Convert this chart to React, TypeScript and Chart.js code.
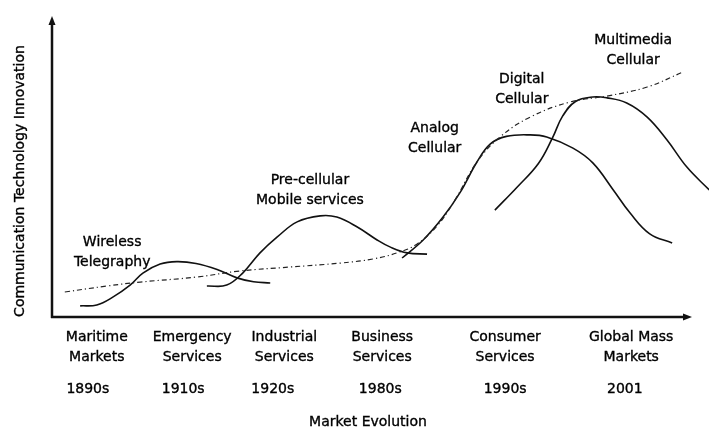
import React, { useEffect, useRef } from "react";
import { Chart, registerables } from "chart.js";

Chart.register(...registerables);

// ---- data (x: market evolution 0-100, y: technology innovation 0-100) ----
const wirelessTelegraphy: [number, number][] = [
  [4.4, 3.7], [7.0, 4.0], [9.5, 6.6], [12.2, 10.6], [14.2, 14.6], [16.9, 17.6],
  [19.5, 18.4], [22.5, 17.8], [25.8, 15.8], [28.9, 13.0], [31.5, 11.7], [34.1, 11.3],
];
const preCellular: [number, number][] = [
  [24.2, 10.3], [27.3, 10.6], [29.8, 14.6], [32.5, 21.3], [35.2, 26.6], [38.3, 31.6],
  [41.9, 33.6], [44.5, 33.2], [47.7, 29.9], [50.8, 25.6], [52.8, 23.3], [55.5, 21.3], [58.6, 20.9],
];
const analogCellular: [number, number][] = [
  [54.7, 19.6], [58.0, 25.6], [61.1, 33.2], [63.8, 41.5], [66.4, 51.5], [68.5, 57.5],
  [71.0, 60.0], [74.7, 60.5], [77.3, 59.8], [81.4, 56.1], [84.5, 51.2],
  [87.7, 42.2], [90.3, 34.6], [93.4, 27.6], [96.9, 24.6],
];
const digitalCellular: [number, number][] = [
  [69.2, 35.5], [72.7, 43.2], [76.0, 51.0], [78.2, 59.5], [79.8, 66.8], [81.8, 71.6],
  [84.5, 73.1], [86.7, 72.8], [89.8, 71.1], [93.0, 66.4], [96.1, 58.8], [99.2, 49.8], [102.7, 42.2],
];
const innovationTrend: [number, number][] = [
  [2.0, 8.3], [8.6, 10.3], [13.8, 11.6], [22.7, 13.3], [29.4, 15.3], [37.2, 16.6],
  [45.0, 17.9], [50.2, 19.3], [53.9, 21.3], [57.0, 24.2], [60.3, 30.6], [63.0, 39.0],
  [66.4, 51.5], [70.0, 59.8], [74.7, 66.4], [80.9, 71.4], [86.7, 73.4], [93.0, 76.4], [98.6, 81.4],
];

const marketCategories: string[][] = [
  ["Maritime", "Markets"],
  ["Emergency", "Services"],
  ["Industrial", "Services"],
  ["Business", "Services"],
  ["Consumer", "Services"],
  ["Global Mass", "Markets"],
];
const marketYears: string[] = ["1890s", "1910s", "1920s", "1980s", "1990s", "2001"];

const technologyLabels: string[][] = [
  ["Wireless", "Telegraphy"],
  ["Pre-cellular", "Mobile services"],
  ["Analog", "Cellular"],
  ["Digital", "Cellular"],
  ["Multimedia", "Cellular"],
];

// ---- label placement (data units) ----
const categoryPos = [7.0, 21.9, 36.3, 51.6, 70.8, 90.5];
const yearPos = [5.6, 20.5, 34.5, 51.3, 70.8, 89.5];
const technologyPos: [number, number][] = [
  [9.4, 24.9], [40.3, 45.5], [59.8, 62.8], [73.4, 79.1], [90.8, 92.0],
];

const FONT = '14px "DejaVu Sans", Verdana, sans-serif';
const INK = "#111";

const decorPlugin = {
  id: "decor",
  afterDatasetsDraw(chart: any) {
    const { ctx, scales } = chart;
    const xs = scales.x;
    const ys = scales.y;
    const x0 = xs.getPixelForValue(0);
    const y0 = ys.getPixelForValue(0);
    const x1 = xs.getPixelForValue(100);
    const y1 = ys.getPixelForValue(100);
    ctx.save();
    // axes with arrows
    ctx.strokeStyle = INK;
    ctx.fillStyle = INK;
    ctx.lineWidth = 2.5;
    ctx.lineCap = "butt";
    ctx.beginPath();
    ctx.moveTo(x0, y0 + 1);
    ctx.lineTo(x0, y1 + 6);
    ctx.moveTo(x0 - 1, y0);
    ctx.lineTo(x1 - 6, y0);
    ctx.stroke();
    ctx.beginPath();
    ctx.moveTo(x0, y1);
    ctx.lineTo(x0 - 3.5, y1 + 9);
    ctx.lineTo(x0 + 3.5, y1 + 9);
    ctx.closePath();
    ctx.fill();
    ctx.beginPath();
    ctx.moveTo(x1, y0);
    ctx.lineTo(x1 - 9, y0 - 3.5);
    ctx.lineTo(x1 - 9, y0 + 3.5);
    ctx.closePath();
    ctx.fill();

    ctx.font = FONT;
    ctx.textAlign = "center";
    ctx.textBaseline = "middle";
    ctx.fillStyle = "#000";
    ctx.strokeStyle = "#000";
    ctx.lineWidth = 0.35;
    const text = (t: string, px: number, py: number) => {
      ctx.fillText(t, px, py);
      ctx.strokeText(t, px, py);
    };
    // curve labels
    technologyLabels.forEach((lines, i) => {
      const px = xs.getPixelForValue(technologyPos[i][0]);
      const py = ys.getPixelForValue(technologyPos[i][1]);
      lines.forEach((t, j) => text(t, px, py + j * 20));
    });
    // category labels
    marketCategories.forEach((lines, i) => {
      const px = xs.getPixelForValue(categoryPos[i]);
      lines.forEach((t, j) => text(t, px, y0 + 20 + j * 20));
    });
    marketYears.forEach((t, i) => {
      text(t, xs.getPixelForValue(yearPos[i]), y0 + 72);
    });
    // axis titles
    text("Market Evolution", 368, y0 + 105);
    ctx.translate(20, 181);
    ctx.rotate(-Math.PI / 2);
    text("Communication Technology Innovation", 0, 0);
    ctx.restore();
  },
};

const toPoints = (arr: [number, number][]) => arr.map(([x, y]) => ({ x, y }));

export default function App() {
  const ref = useRef<HTMLCanvasElement | null>(null);
  useEffect(() => {
    if (!ref.current) return;
    const curve = (label: string, data: [number, number][]) => ({
      label,
      data: toPoints(data),
      borderColor: INK,
      borderWidth: 1.6,
      pointRadius: 0,
      fill: false,
      tension: 0.4,
      clip: false as const,
    });
    const chart = new Chart(ref.current, {
      type: "line",
      data: {
        datasets: [
          {
            label: "Trend",
            data: toPoints(innovationTrend),
            borderColor: "#222",
            borderWidth: 1.2,
            borderDash: [5, 3, 1.2, 3],
            pointRadius: 0,
            fill: false,
            tension: 0.4,
            clip: false as const,
          },
          curve("Wireless Telegraphy", wirelessTelegraphy),
          curve("Pre-cellular", preCellular),
          curve("Analog Cellular", analogCellular),
          curve("Digital Cellular", digitalCellular),
        ],
      },
      options: {
        animation: false,
        responsive: false,
        events: [],
        layout: { padding: { left: 52, right: 17, top: 16, bottom: 112 } },
        scales: {
          x: { type: "linear", min: 0, max: 100, display: false },
          y: { type: "linear", min: 0, max: 100, display: false },
        },
        plugins: { legend: { display: false }, tooltip: { enabled: false } },
      },
      plugins: [decorPlugin],
    });
    return () => chart.destroy();
  }, []);
  return (
    <div style={{ position: "fixed", left: 0, top: 0, width: 709, height: 429, background: "#fff" }}>
      <canvas ref={ref} width={709} height={429} style={{ display: "block" }} />
    </div>
  );
}
